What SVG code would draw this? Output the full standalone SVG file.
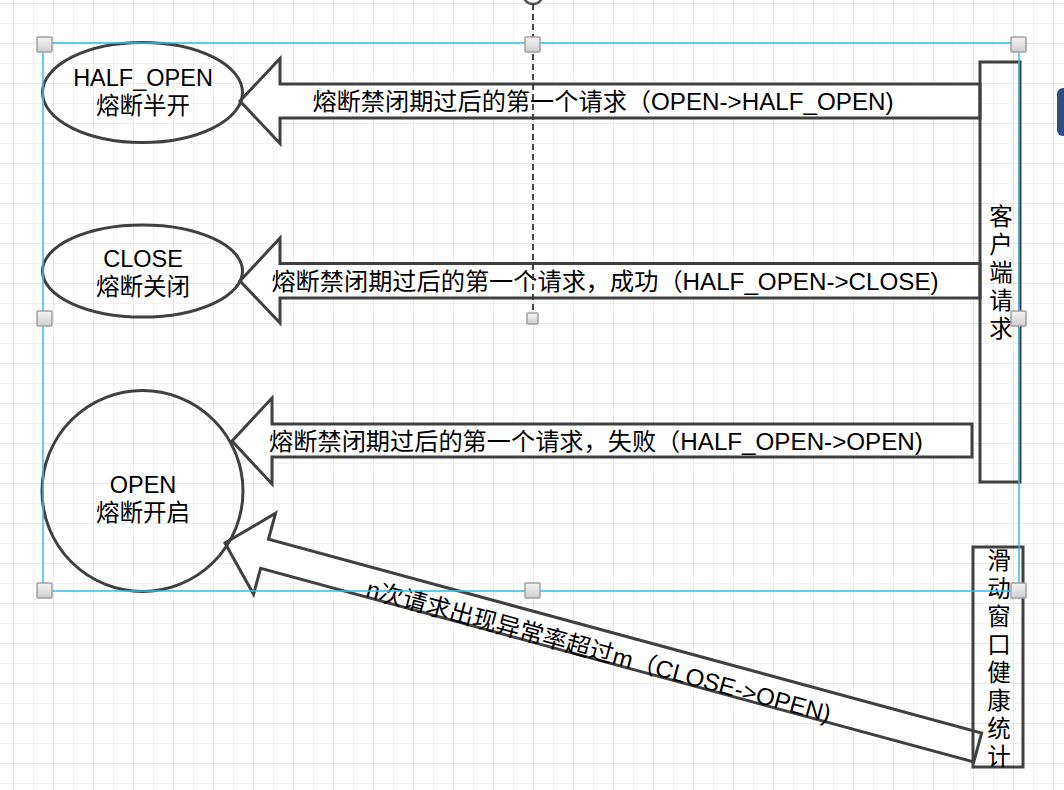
<svg xmlns="http://www.w3.org/2000/svg" width="1064" height="790" viewBox="0 0 1064 790">
<defs>
<pattern id="grid" x="13" y="3" width="40" height="40" patternUnits="userSpaceOnUse">
<rect x="0" y="0" width="40" height="40" fill="#ffffff"/>
<rect x="20" y="0" width="1" height="40" fill="#f0f0fd"/>
<rect x="0" y="20" width="40" height="1" fill="#f0f0fd"/>
<rect x="0" y="0" width="1" height="40" fill="#e6e6fb"/>
<rect x="0" y="0" width="40" height="1" fill="#e6e6fb"/>
</pattern>
<linearGradient id="hg" x1="0" y1="0" x2="0" y2="1">
<stop offset="0" stop-color="#f4f4f4"/>
<stop offset="1" stop-color="#cfcfcf"/>
</linearGradient>
<style>
.shape{fill:none;stroke:#404040;stroke-width:3;}
.arrow{fill:#ffffff;stroke:#404040;stroke-width:3;stroke-linejoin:miter;}
.t{font-family:"Liberation Sans","Noto Sans CJK SC",sans-serif;font-size:23.5px;fill:#000000;}
.l{font-size:24.2px;}
.c{text-anchor:middle;}
.sel{fill:none;stroke:#2fbdf0;stroke-width:1.5;}
.h{fill:url(#hg);stroke:#a0a0a0;stroke-width:1.5;}
</style>
</defs>
<rect x="0" y="0" width="1064" height="790" fill="url(#grid)"/>
<g id="connectors">
<g id="edge-half-open">
<polygon class="arrow" points="240,101 280,58.5 280,84 980,84 980,118 280,118 280,143.5"/>
<text class="t l c" x="603" y="109.5">熔断禁闭期过后的第一个请求（OPEN-&gt;HALF_OPEN)</text>
</g>
<g id="edge-close">
<polygon class="arrow" points="240,281 280,238 280,263.5 980,263.5 980,298 280,298 280,323"/>
<text class="t l c" x="605" y="289.5">熔断禁闭期过后的第一个请求，成功（HALF_OPEN-&gt;CLOSE)</text>
</g>
<g id="edge-open">
<polygon class="arrow" points="232,441 272,398 272,424 972,424 972,457 272,457 272,484"/>
<text class="t l c" x="596" y="449.5">熔断禁闭期过后的第一个请求，失败（HALF_OPEN-&gt;OPEN)</text>
</g>
<g id="edge-close-open" transform="translate(225,543) rotate(15.2)">
<polygon class="arrow" points="0,0 41,-42 41,-15 780,-15 780,15 41,15 41,42"/>
<text class="t l c" x="389" y="15">n次请求出现异常率超过m（CLOSE-&gt;OPEN)</text>
</g>
</g>
<g id="node-half-open">
<ellipse class="shape" cx="142.5" cy="92.5" rx="100" ry="50"/>
<text class="t c" x="143" y="85.5">HALF_OPEN</text>
<text class="t c" x="143" y="113.5">熔断半开</text>
</g>
<g id="node-close">
<ellipse class="shape" cx="142.5" cy="271" rx="100" ry="46"/>
<text class="t c" x="143" y="266.5">CLOSE</text>
<text class="t c" x="143" y="294.5">熔断关闭</text>
</g>
<g id="node-open">
<circle class="shape" cx="142.5" cy="491" r="100.5"/>
<text class="t c" x="143" y="492.5">OPEN</text>
<text class="t c" x="143" y="520.5">熔断开启</text>
</g>
<g id="node-client">
<rect class="shape" x="980" y="62" width="40" height="420"/>
<text class="t c" x="1001" y="224.5">客</text>
<text class="t c" x="1001" y="252.5">户</text>
<text class="t c" x="1001" y="280.5">端</text>
<text class="t c" x="1001" y="308.5">请</text>
<text class="t c" x="1001" y="336.5">求</text>
</g>
<g id="node-window">
<rect class="shape" x="973" y="547" width="50" height="220"/>
<text class="t c" x="999" y="568.5">滑</text>
<text class="t c" x="999" y="596.5">动</text>
<text class="t c" x="999" y="624.5">窗</text>
<text class="t c" x="999" y="652.5">口</text>
<text class="t c" x="999" y="680.5">健</text>
<text class="t c" x="999" y="708.5">康</text>
<text class="t c" x="999" y="736.5">统</text>
<text class="t c" x="999" y="764.5">计</text>
</g>
<g id="editor-overlay">
<rect x="1057" y="88" width="24" height="48" rx="6" fill="#2c4f7f"/>
<circle cx="533" cy="-6" r="10" fill="none" stroke="#555555" stroke-width="2.5"/>
<line x1="533" y1="4" x2="533" y2="318" stroke="#333333" stroke-width="1.8" stroke-dasharray="6,4"/>
<rect class="sel" x="43" y="43" width="976" height="548"/>
<rect class="h" x="37" y="37" width="15" height="15" rx="1"/>
<rect class="h" x="525" y="37" width="15" height="15" rx="1"/>
<rect class="h" x="1011" y="37" width="15" height="15" rx="1"/>
<rect class="h" x="37" y="311" width="15" height="15" rx="1"/>
<rect class="h" x="1011" y="311" width="15" height="15" rx="1"/>
<rect class="h" x="37" y="583" width="15" height="15" rx="1"/>
<rect class="h" x="525" y="583" width="15" height="15" rx="1"/>
<rect class="h" x="1011" y="583" width="15" height="15" rx="1"/>
<rect class="h" x="527" y="313" width="11" height="11" rx="1"/>
</g>
</svg>
